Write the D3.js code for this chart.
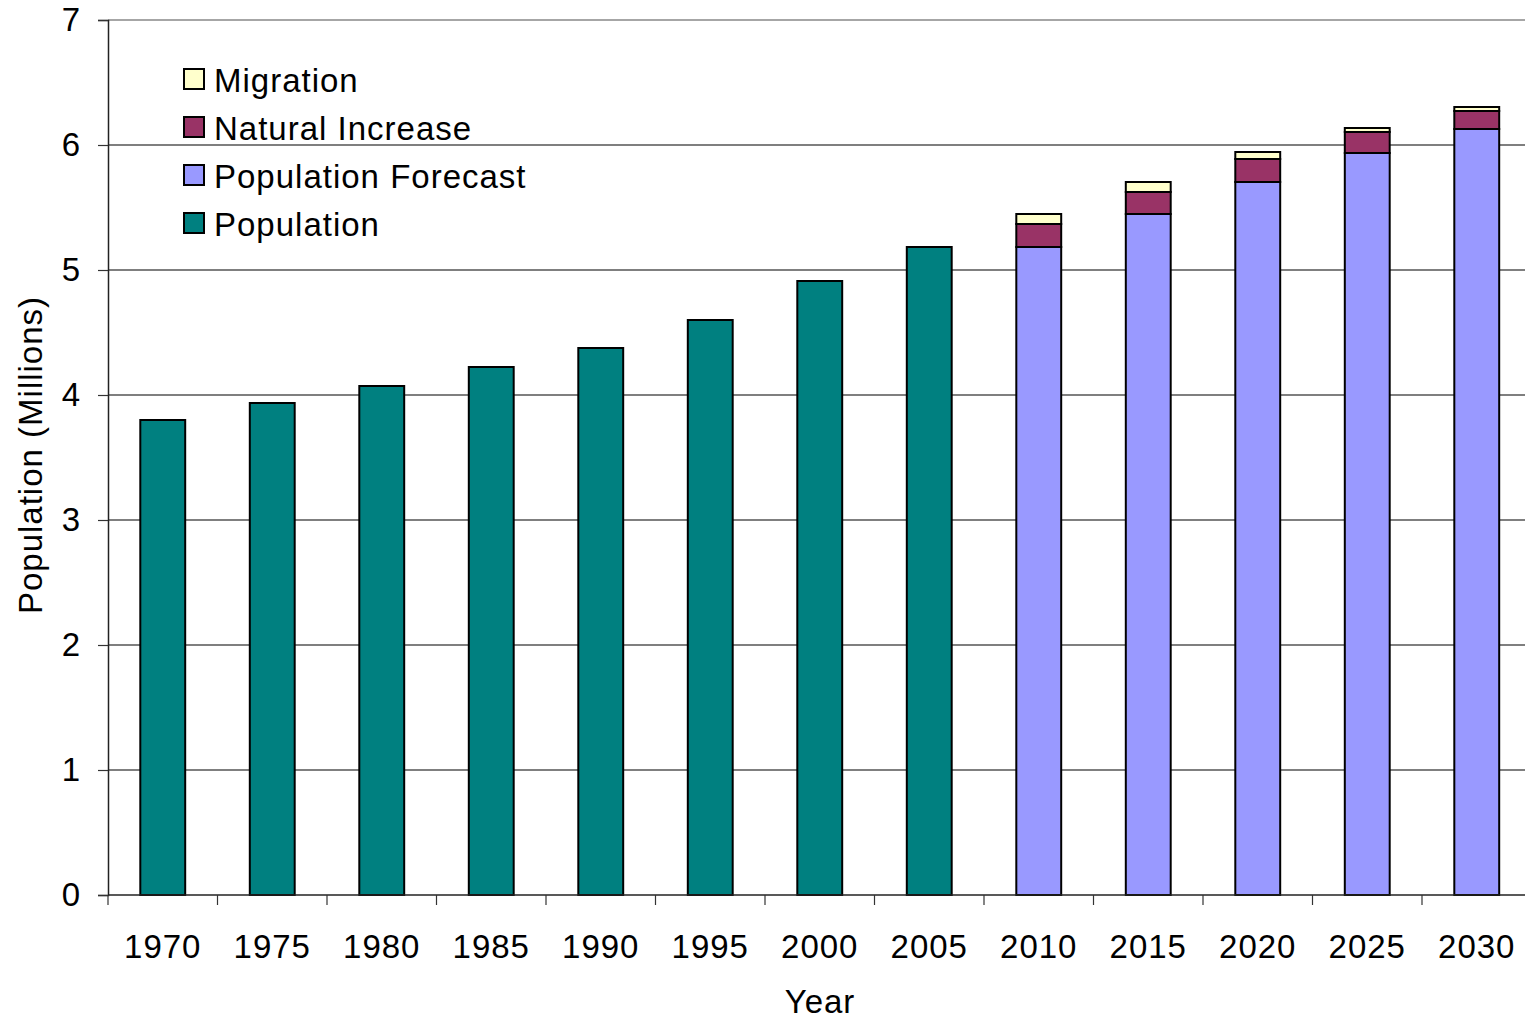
<!DOCTYPE html>
<html>
<head>
<meta charset="utf-8">
<script src="https://cdn.jsdelivr.net/npm/d3@7"></script>
<style>
  body { margin: 0; background: #fff; }
  svg { display: block; font-family: "Liberation Sans", Arial, sans-serif; }
  text { letter-spacing: 1px; }
</style>
</head>
<body>
<svg id="chart" width="1525" height="1019"></svg>
<script>
const years = ['1970', '1975', '1980', '1985', '1990', '1995', '2000', '2005', '2010', '2015', '2020', '2025', '2030']
const population = [3.80, 3.936, 4.072, 4.224, 4.376, 4.60, 4.912, 5.184, 0, 0, 0, 0, 0]
const forecast = [0, 0, 0, 0, 0, 0, 0, 0, 5.184, 5.448, 5.704, 5.936, 6.128]
const naturalIncrease = [0, 0, 0, 0, 0, 0, 0, 0, 0.184, 0.176, 0.184, 0.168, 0.144]
const migration = [0, 0, 0, 0, 0, 0, 0, 0, 0.08, 0.08, 0.056, 0.032, 0.032]
const yTicks = [0, 1, 2, 3, 4, 5, 6, 7]

const seriesKeys = ['population', 'forecast', 'natural', 'migration']
const seriesNames = {
  population: 'Population',
  forecast: 'Population Forecast',
  natural: 'Natural Increase',
  migration: 'Migration',
}
const colors = {
  population: '#008080',
  forecast: '#9999FF',
  natural: '#993366',
  migration: '#FFFFCC',
}

const rows = years.map((yr, i) => ({
  year: yr,
  population: population[i],
  forecast: forecast[i],
  natural: naturalIncrease[i],
  migration: migration[i],
}))

const svg = d3.select('#chart')
const LEFT = 108, TOP = 20, BOTTOM = 895, RIGHT = 1531.5
const FONT = 33

const x = d3.scaleBand().domain(years).range([LEFT, RIGHT]).padding(0)
const y = d3.scaleLinear().domain([0, 7]).range([BOTTOM, TOP])
const barW = x.bandwidth() * 0.41

// grille horizontale
svg.append('g')
  .selectAll('line')
  .data(yTicks.filter(d => d > 0))
  .enter()
  .append('line')
  .attr('x1', LEFT)
  .attr('x2', RIGHT)
  .attr('y1', d => y(d))
  .attr('y2', d => y(d))
  .attr('stroke', d => d === 7 ? '#888' : '#555')
  .attr('stroke-width', 1.3)

// les barres empilées
const stacked = d3.stack().keys(seriesKeys)(rows)

svg.append('g')
  .selectAll('g')
  .data(stacked)
  .enter()
  .append('g')
  .attr('fill', d => colors[d.key])
  .selectAll('rect')
  .data(d => d.filter(p => p[1] - p[0] > 0))
  .enter()
  .append('rect')
  .attr('x', d => x(d.data.year) + (x.bandwidth() - barW) / 2)
  .attr('width', barW)
  .attr('y', d => y(d[1]))
  .attr('height', d => y(d[0]) - y(d[1]))
  .attr('stroke', '#000')
  .attr('stroke-width', 2)

// axe Y
const yAxis = svg.append('g')
  .attr('transform', `translate(${LEFT},0)`)
  .call(d3.axisLeft(y).tickValues(yTicks).tickSize(10).tickPadding(17).tickFormat(d3.format('d')))
yAxis.select('.domain').attr('stroke', '#222').attr('stroke-width', 1.5)
yAxis.selectAll('.tick line').attr('stroke', '#333').attr('stroke-width', 1.2)
yAxis.selectAll('text').attr('font-size', FONT).attr('fill', '#000').attr('font-family', '"Liberation Sans", Arial, sans-serif')

// axe X : ticks entre les catégories
const xAxisG = svg.append('g')
xAxisG.append('line')
  .attr('x1', LEFT)
  .attr('x2', RIGHT)
  .attr('y1', BOTTOM)
  .attr('y2', BOTTOM)
  .attr('stroke', '#222')
  .attr('stroke-width', 1.5)
xAxisG.selectAll('line.tk')
  .data(years)
  .enter()
  .append('line')
  .attr('class', 'tk')
  .attr('x1', d => x(d))
  .attr('x2', d => x(d))
  .attr('y1', BOTTOM)
  .attr('y2', BOTTOM + 10)
  .attr('stroke', '#333')
  .attr('stroke-width', 1.2)
xAxisG.selectAll('text')
  .data(years)
  .enter()
  .append('text')
  .attr('x', d => x(d) + x.bandwidth() / 2)
  .attr('y', 958)
  .attr('text-anchor', 'middle')
  .attr('font-size', FONT)
  .text(d => d)

// titres des axes
svg.append('text')
  .attr('x', 820)
  .attr('y', 1013)
  .attr('text-anchor', 'middle')
  .attr('font-size', FONT)
  .text('Year')

svg.append('text')
  .attr('transform', 'translate(42,455) rotate(-90)')
  .attr('text-anchor', 'middle')
  .attr('font-size', FONT)
  .text('Population (Millions)')

// la légende
const legendKeys = ['migration', 'natural', 'forecast', 'population']
const legend = svg.append('g').attr('transform', 'translate(183,68)')
const ROW = 48

legend.selectAll('rect')
  .data(legendKeys)
  .enter()
  .append('rect')
  .attr('x', 1)
  .attr('y', (d, i) => i * ROW + 1)
  .attr('width', 20)
  .attr('height', 20)
  .attr('fill', d => colors[d])
  .attr('stroke', '#000')
  .attr('stroke-width', 2)

legend.selectAll('text')
  .data(legendKeys)
  .enter()
  .append('text')
  .attr('x', 31)
  .attr('y', (d, i) => i * ROW + 24)
  .attr('font-size', FONT)
  .text(d => seriesNames[d])
</script>
</body>
</html>
